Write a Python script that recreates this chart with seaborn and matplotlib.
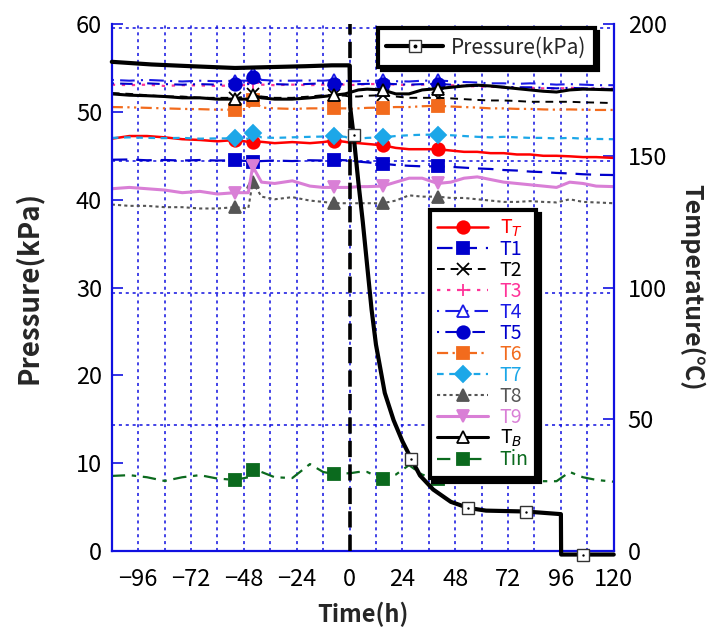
import numpy as np
import pandas as pd
import matplotlib
matplotlib.use("Agg")
import matplotlib.pyplot as plt
import seaborn as sns
from matplotlib.lines import Line2D
from matplotlib.legend_handler import HandlerTuple

sns.set_theme(style="white")
plt.rcParams['font.family'] = ['Noto Sans CJK JP', 'DejaVu Sans']
plt.rcParams['axes.unicode_minus'] = True

# ---------------- data ----------------
t_h = [-108, -100, -92, -84, -76, -68, -60, -52, -46, -44, -40, -34, -26, -18, -12, -7,
       -2, 0, 4, 8, 15, 21, 27, 33, 40, 46, 52, 58, 64, 70, 76, 82, 88, 94, 100, 106, 112, 120]
marker_idx = [7, 9, 15, 20, 24]

T_T = [156.5, 157.5, 157.5, 157, 156.3, 156, 155.5, 156, 155.3, 155.3, 155.3, 154.8, 155.2, 154.8, 155.2, 155.8,
       155.3, 155, 154.8, 154.5, 154, 153, 152.5, 152.5, 152.5, 152, 151.5, 151.5, 151, 151, 150.5, 150.5,
       150, 150, 149.8, 149.5, 149.5, 149.2]
T1 = [148.5, 148.6, 148.3, 148.4, 148.2, 148.4, 148.2, 148.3, 148, 147.8, 148, 148.2, 148, 148.3, 148.2, 148.5,
      148.3, 148.2, 147.8, 147.5, 147, 146.5, 146.2, 146, 146, 145.8, 145.5, 145.2, 145, 144.6, 144.4, 144,
      143.8, 143.5, 143.3, 143, 142.8, 142.7]
T2 = [173.8, 173.5, 173, 172.5, 172.5, 172, 172, 172, 172.5, 173.5, 172.5, 172, 172, 172.5, 173, 173,
      172.8, 172.5, 172.5, 172.8, 173, 172.5, 172, 172, 172, 171.8, 171.5, 171.2, 171, 171, 170.8, 170.5,
      170.5, 170.5, 170.5, 170.3, 170.2, 170]
T3 = [177, 176.8, 177, 176.5, 176.8, 176.7, 176.5, 176.8, 176.8, 177.5, 177, 176.8, 177, 176.8, 177, 177.2,
      177, 176.8, 177, 177.2, 177.3, 177, 176.8, 177, 177, 176.8, 176.5, 176.3, 176.2, 176, 175.8, 175.8,
      175.6, 175.5, 175.8, 175.6, 175.5, 175.5]
T4 = [178.8, 178.5, 178.8, 178.5, 178.2, 178.5, 178.3, 178.5, 178.5, 181.5, 178.8, 178.5, 178.5, 178.6, 178.5, 178.8,
      178.5, 178.3, 178.3, 178.5, 178.6, 178.3, 178.2, 178.5, 178.6, 178.3, 178, 177.8, 177.5, 177.5, 177.3, 177.5,
      177.3, 177, 177.2, 177, 176.8, 176.8]
T5 = [177.5, 177.3, 177.5, 177.2, 177, 177.2, 177, 177.2, 177.2, 180, 177.5, 177.2, 177, 177.3, 177.5, 177.3,
      177.2, 177, 177.2, 177.3, 177.4, 177.2, 177, 177.2, 177.3, 177, 176.8, 176.5, 176.3, 176.2, 176, 176,
      175.8, 175.6, 175.8, 175.6, 175.5, 175.3]
T6 = [168.5, 168.4, 168.2, 168, 167.8, 167.7, 167.5, 167.5, 167.8, 171, 168.3, 168, 167.8, 168, 168, 168,
      168, 167.8, 168, 168.2, 168.3, 168.5, 168.5, 168.8, 169, 168.7, 168.5, 168.3, 168, 168, 167.8, 167.8,
      167.6, 167.5, 167.6, 167.5, 167.4, 167.4]
T7 = [156.8, 157, 156.8, 156.7, 156.8, 156.5, 156.6, 156.6, 156.5, 158.5, 157, 156.8, 157, 157.2, 157.3, 157.5,
      157.2, 156.5, 156.5, 156.8, 157, 157.5, 157.8, 158, 158, 157.8, 157.5, 157.2, 157, 157.2, 157, 156.8,
      156.8, 156.6, 156.8, 156.5, 156.4, 156.3]
T8 = [131.5, 131, 131, 130.5, 130.5, 130, 130, 130.5, 130, 140, 134.5, 133.5, 134.3, 133, 132.5, 132,
      132, 132, 132, 132, 132, 133, 135, 134.5, 134.5, 134, 134, 133.5, 133, 132.5, 132.5, 132.8,
      132.5, 132.3, 133.5, 132.5, 132.3, 132]
T9 = [137.5, 138, 137.5, 137, 136, 136.5, 135.5, 136, 136, 146, 140, 139.5, 140.5, 138.5, 138, 138,
      138, 138, 138.3, 138.3, 138.5, 140, 141.5, 141.5, 139.5, 140, 141.5, 142, 141, 140, 139.5, 139,
      138.5, 138, 140, 139.5, 138.5, 138.3]
T_B = [173.5, 173, 172.8, 172.5, 172, 172, 171.5, 171.5, 171.5, 173, 172, 171.5, 171.5, 172, 172.5, 173,
       173.5, 174, 175, 175.3, 175, 173.5, 173.5, 175, 175.5, 176, 176.5, 176.8, 176.5, 176, 175.5, 175,
       174.5, 174.2, 175, 175.3, 175.2, 175]
Tin = [28.5, 28.8, 28, 26.6, 28, 28.8, 27.5, 27, 28, 30.7, 30, 28, 27.7, 33, 30, 29.2,
       29.5, 29.5, 30, 30, 27.3, 29, 32.6, 29, 27.3, 29, 28.8, 29, 28.5, 27.5, 27, 27,
       26.5, 26.5, 30, 28, 27, 26.3]

p_time = [-108, -90, -72, -52, -36, -20, -8, 0, 0.3, 1.8, 4, 6, 8, 10, 12, 16, 20, 24, 28, 32, 38, 46,
          54, 62, 80, 96, 96.1, 106, 120]
p_val = [55.7, 55.4, 55.2, 55.0, 55.1, 55.2, 55.3, 55.3, 50.5, 47.4, 42.0, 37.5, 32.5, 27.5, 23.5, 18.0,
         14.9, 12.5, 10.5, 8.6, 7.0, 5.6, 4.9, 4.6, 4.5, 4.2, -0.4, -0.4, -0.4]
p_marker_idx = [9, 18, 22, 24, 27]

x_ticks = [-96, -72, -48, -24, 0, 24, 48, 72, 96, 120]
p_ticks = [0, 10, 20, 30, 40, 50, 60]
t_ticks = [0, 50, 100, 150, 200]

series_names = ["T$_T$", "T1", "T2", "T3", "T4", "T5", "T6", "T7", "T8", "T9", "T$_B$", "Tin"]
series_vals = [T_T, T1, T2, T3, T4, T5, T6, T7, T8, T9, T_B, Tin]

# styles: color, linestyle, marker, filled, lw, ms
styles = {
    "T$_T$": ("#FF0000", "-", "o", True, 1.8, 9),
    "T1": ("#0000CC", (0, (7, 4)), "s", True, 1.6, 9),
    "T2": ("#000000", (0, (4, 3)), "x", True, 1.4, 8),
    "T3": ("#FF3399", (0, (1.5, 3)), "+", True, 1.6, 9),
    "T4": ("#1A1AE6", (0, (1, 3, 7, 3)), "^", False, 1.5, 9),
    "T5": ("#0000CC", (0, (1, 3, 6, 3)), "o", True, 1.5, 9),
    "T6": ("#F26B1D", (0, (5, 2, 1, 2, 1, 2)), "s", True, 1.6, 9),
    "T7": ("#1CA7E8", (0, (3, 2.5)), "D", True, 1.6, 8),
    "T8": ("#555555", (0, (1.5, 1.5)), "^", True, 1.5, 9),
    "T9": ("#D97FD6", "-", "v", True, 2.2, 9),
    "T$_B$": ("#000000", "-", "^", False, 2.2, 8),
    "Tin": ("#0B6A1E", (0, (6, 3, 2, 3)), "s", True, 1.6, 9),
}

grid_blue = "#1010E0"
tick_font = ['Noto Sans CJK JP', 'DejaVu Sans']
label_font = ['Noto Sans CJK JP', 'DejaVu Sans']

fig = plt.figure(figsize=(7.12, 6.33), dpi=100)
ax = fig.add_axes([0.157, 0.1295, 0.705, 0.8325])
ax2 = ax.twinx()
ax.set_zorder(ax2.get_zorder() + 1)
ax.patch.set_visible(False)
ax2.patch.set_visible(True)
ax2.patch.set_facecolor("white")

# grid (on lower axes)
for v in range(-96, 120, 12):
    ax2.axvline(v, color=grid_blue, ls=(0, (2, 2.5)), lw=1.1, zorder=0.5)
for h in [48, 98, 148, 198.5]:
    ax2.axhline(h, color=grid_blue, ls=(0, (2, 2.5)), lw=1.1, zorder=0.5)

# temperature series
for name, vals in zip(series_names, series_vals):
    c, ls, m, filled, lw, ms = styles[name]
    sns.lineplot(x=t_h, y=vals, ax=ax2, color=c, linestyle=ls, lw=lw,
                 marker=m, markevery=marker_idx, markersize=ms,
                 markerfacecolor=(c if filled else "white"), markeredgecolor=c,
                 markeredgewidth=1.3, estimator=None, sort=False, legend=False, zorder=2)

# vertical dashed line at t=0
ax.axvline(0, color="black", lw=2.6, ls=(0, (4.5, 2)), zorder=3)

# pressure
sns.lineplot(x=p_time, y=p_val, ax=ax, color="black", lw=3.0, marker="s",
             markevery=p_marker_idx, markersize=8, markerfacecolor="white",
             markeredgecolor="#333333", markeredgewidth=1.0, clip_on=False,
             estimator=None, sort=False, legend=False, zorder=4)
sns.scatterplot(x=[p_time[i] for i in p_marker_idx], y=[p_val[i] for i in p_marker_idx],
                ax=ax, color="black", s=3, marker="o", linewidth=0, zorder=5, legend=False,
                clip_on=False)

# axes limits / ticks
ax.set_xlim(-108, 120)
ax.set_ylim(0, 60)
ax2.set_ylim(0, 200)
ax.set_xticks(x_ticks)
ax.set_yticks(p_ticks)
ax2.set_yticks(t_ticks)
ax.set_xticklabels([str(v).replace("-", "\u2212") for v in x_ticks], fontsize=17, family=tick_font)
ax.set_yticklabels([str(v) for v in p_ticks], fontsize=17, family=tick_font)
ax2.set_yticklabels([str(v) for v in t_ticks], fontsize=17, family=tick_font)
ax.tick_params(axis="y", direction="in", length=8, width=1.2, color=grid_blue, pad=7, labelcolor="black")
ax.tick_params(axis="x", direction="in", length=6, width=1.0, color=grid_blue, pad=12, labelcolor="black")
ax2.tick_params(axis="y", direction="in", length=8, width=1.2, color=grid_blue, pad=10, labelcolor="black")
ax.grid(False)
ax2.grid(False)

for s in ["left", "right", "bottom"]:
    ax.spines[s].set_color(grid_blue)
    ax.spines[s].set_linewidth(1.6)
ax.spines["top"].set_visible(False)
for s in ax2.spines.values():
    s.set_visible(False)

ax.set_xlabel("Time(h)", fontsize=17, fontweight="bold", family=label_font, labelpad=8)
ax.set_ylabel("Pressure(kPa)", fontsize=20, fontweight="bold", family=label_font, labelpad=24)
ax2.set_ylabel("Temperature(\u2103)", fontsize=18, fontweight="bold", family=label_font,
               rotation=270, labelpad=27)

# temperature legend
handles = []
for name in series_names:
    c, ls, m, filled, lw, ms = styles[name]
    handles.append(Line2D([], [], color=c, linestyle=ls, lw=lw, marker=m, markersize=ms,
                          markerfacecolor=(c if filled else "white"), markeredgecolor=c,
                          markeredgewidth=1.3))
leg2 = ax2.legend(handles, series_names, loc="upper left", bbox_to_anchor=(0.633, 0.647),
                  borderaxespad=0,
                  frameon=True, fancybox=False, edgecolor="black", framealpha=1,
                  prop={"family": label_font, "size": 14}, handlelength=2.6,
                  labelspacing=0.0, borderpad=0.4, handletextpad=0.6,
                  shadow={"ox": 2.5, "oy": -2.5, "color": "black", "alpha": 1})
leg2.get_frame().set_linewidth(3)
leg2.set_zorder(10)
for txt, name in zip(leg2.get_texts(), series_names):
    txt.set_color(styles[name][0])

# pressure legend
p_line = Line2D([], [], color="black", lw=3.0, marker="s", markersize=8,
                markerfacecolor="white", markeredgecolor="#333333", markeredgewidth=1.0)
p_dot = Line2D([], [], color="black", linestyle="none", marker="o", markersize=1.8)
leg1 = ax.legend([(p_line, p_dot)], ["Pressure(kPa)"], handler_map={tuple: HandlerTuple(ndivide=1)},
                 loc="upper right", bbox_to_anchor=(0.962, 0.992), borderaxespad=0,
                 frameon=True, fancybox=False,
                 edgecolor="black", framealpha=1, prop={"family": label_font, "size": 15},
                 handlelength=2.7, borderpad=0.4, handletextpad=0.4,
                 shadow={"ox": 2.5, "oy": -2.5, "color": "black", "alpha": 1})
leg1.get_frame().set_linewidth(3)

fig.savefig("out.png", dpi=100, facecolor="white")
